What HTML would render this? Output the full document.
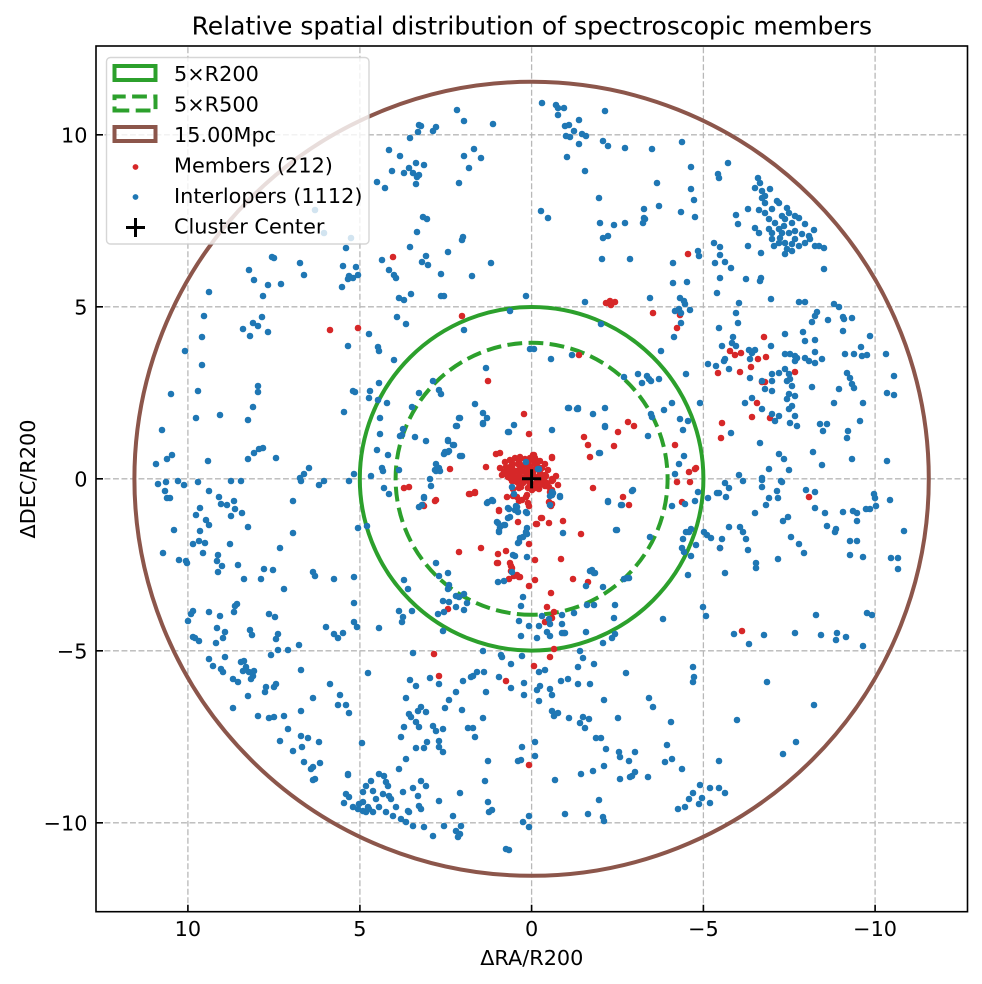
<!DOCTYPE html>
<html><head><meta charset="utf-8"><style>
html,body{margin:0;padding:0;background:#fff;}
svg{display:block;}
text{font-family:"DejaVu Sans","Liberation Sans",sans-serif;fill:#000;}
</style></head><body>
<svg width="982" height="984" viewBox="0 0 982 984" xmlns="http://www.w3.org/2000/svg">
<rect x="0" y="0" width="982" height="984" fill="#fff"/>
<text x="531.8" y="34.3" font-size="25" text-anchor="middle">Relative spatial distribution of spectroscopic members</text>
<g stroke="#b8b8b8" stroke-width="1.3" stroke-dasharray="5.9,2.6" fill="none">
<path d="M187.9 911.7V46M359.9 911.7V46M531.6 911.7V46M703.4 911.7V46M875.1 911.7V46"/>
<path d="M96 134.8H967.5M96 306.8H967.5M96 478.8H967.5M96 650.8H967.5M96 822.8H967.5"/>
</g>
<g fill="none" stroke-width="4">
<path stroke="#8c564b" d="M531.6 875.8A397 397 0 1 1 531.6 81.8A397 397 0 1 1 531.6 875.8Z"/>
<path stroke="#2ca02c" d="M531.6 650.6A171.8 171.8 0 1 1 531.6 307A171.8 171.8 0 1 1 531.6 650.6Z"/>
<path stroke="#2ca02c" stroke-dasharray="14.8,6.4" d="M531.6 614.8A136 136 0 1 1 531.6 342.8A136 136 0 1 1 531.6 614.8"/>
</g>
<path fill="none" stroke="#d62728" stroke-width="6.6" stroke-linecap="round" d="M393 257h0M330 330h0M358 328h0M462 316h0M488 381h0M524 414h0M529 434h0M496 454h0M500 453h0M486 467h0M450 469h0M688 254h0M606 303h0M610 301h0M615 302h0M611 305h0M653 313h0M680 315h0M677 328h0M579 355h0M730 351h0M735 355h0M741 353h0M764 337h0M758 359h0M766 357h0M751 367h0M718 373h0M740 372h0M762 382h0M765 382h0M795 372h0M757 403h0M752 417h0M770 418h0M722 423h0M721 438h0M584 437h0M588 445h0M590 457h0M614 446h0M618 432h0M628 422h0M634 426h0M552 458h0M675 445h0M689 472h0M695 469h0M696 468h0M534 455h0M404 488h0M409 487h0M424 506h0M435 501h0M469 494h0M475 492h0M459 552h0M481 548h0M498 554h0M498 563h0M506 551h0M499 511h0M518 522h0M511 566h0M511 571h0M509 579h0M514 576h0M519 577h0M529 586h0M515 481h0M513 489h0M519 484h0M513 496h0M519 501h0M526 497h0M529 506h0M529 544h0M448 609h0M434 654h0M439 676h0M506 681h0M529 765h0M537 481h0M542 482h0M545 486h0M552 481h0M558 485h0M539 489h0M550 492h0M549 502h0M552 504h0M551 506h0M593 488h0M623 497h0M629 505h0M536 524h0M549 523h0M541 518h0M563 521h0M581 534h0M535 560h0M561 559h0M573 579h0M588 582h0M535 580h0M551 593h0M547 607h0M554 612h0M552 618h0M545 622h0M564 633h0M554 649h0M550 657h0M534 666h0M677 482h0M690 482h0M682 502h0M720 548h0M742 631h0M809 497h0M533 455h0M530 458h0M519 461h0M512 463h0M510 467h0M507 469h0M513 470h0M520 468h0M527 467h0M535 463h0M538 467h0M508 475h0M515 477h0M520 475h0M527 473h0M533 473h0M540 472h0M545 475h0M552 479h0M543 480h0M537 483h0M530 485h0M523 483h0M517 482h0M510 478h0M520 480h0M527 478h0M535 477h0M547 483h0M552 457h0M552 490h0M552 495h0M551 504h0M532 490h0M527 495h0M519 488h0M522 500h0M517 497h0M507 497h0M528 503h0M470 494h0M475 493h0M436 500h0M423 505h0M499 510h0M537 524h0M542 518h0M497 563h0M510 563h0M512 568h0M517 575h0M520 577h0M505 462h0M510 460h0M515 458h0M520 457h0M525 459h0M530 460h0M535 458h0M540 461h0M545 464h0M506 467h0M512 466h0M518 464h0M524 465h0M530 466h0M536 465h0M542 468h0M548 470h0M504 472h0M510 472h0M516 471h0M522 471h0M528 471h0M534 470h0M540 474h0M546 476h0M508 477h0M514 476h0M520 476h0M526 476h0M532 476h0M538 478h0M544 479h0M512 481h0M518 481h0M524 482h0M530 482h0M536 483h0M542 484h0M521 487h0M528 488h0M535 488h0M549 487h0M553 480h0M556 476h0M500 468h0M502 475h0"/>
<path fill="none" stroke="#1f77b4" stroke-width="6.6" stroke-linecap="round" d="M457 110h0M464 121h0M493 124h0M419 125h0M421 126h0M436 127h0M433 131h0M418 132h0M410 138h0M389 150h0M400 156h0M474 149h0M481 158h0M464 156h0M416 163h0M424 165h0M409 168h0M404 173h0M413 173h0M419 175h0M417 177h0M416 184h0M392 171h0M469 168h0M377 182h0M385 188h0M459 183h0M315 210h0M423 217h0M427 219h0M417 232h0M324 233h0M351 238h0M346 248h0M463 237h0M462 240h0M410 247h0M448 252h0M272 257h0M274 258h0M382 260h0M426 256h0M422 262h0M428 265h0M491 263h0M300 263h0M249 270h0M343 266h0M356 267h0M389 270h0M394 275h0M396 278h0M304 275h0M254 280h0M349 276h0M353 278h0M358 275h0M348 279h0M441 274h0M472 276h0M268 285h0M281 284h0M342 287h0M209 292h0M263 296h0M399 298h0M404 300h0M411 294h0M441 296h0M444 296h0M526 296h0M510 311h0M204 316h0M262 317h0M253 323h0M258 326h0M243 329h0M250 336h0M268 332h0M397 317h0M406 324h0M202 337h0M369 334h0M464 330h0M348 346h0M378 347h0M379 351h0M185 351h0M202 365h0M394 360h0M486 368h0M530 349h0M433 381h0M379 383h0M258 386h0M258 392h0M353 391h0M355 392h0M370 391h0M369 398h0M171 394h0M198 391h0M419 393h0M439 390h0M441 394h0M378 400h0M387 403h0M475 404h0M253 407h0M412 407h0M344 412h0M459 418h0M483 413h0M487 418h0M483 424h0M196 418h0M220 415h0M248 420h0M380 418h0M456 426h0M514 425h0M403 429h0M402 435h0M400 436h0M380 434h0M415 437h0M426 441h0M448 441h0M454 445h0M509 432h0M162 430h0M377 450h0M388 455h0M460 456h0M449 451h0M444 454h0M254 453h0M259 449h0M263 448h0M248 459h0M276 458h0M172 455h0M167 459h0M156 464h0M208 461h0M436 464h0M439 468h0M436 471h0M382 468h0M383 471h0M399 470h0M309 468h0M304 474h0M300 478h0M354 474h0M371 476h0M542 103h0M556 105h0M558 108h0M564 108h0M558 115h0M605 111h0M579 120h0M565 126h0M569 125h0M574 131h0M566 136h0M570 137h0M582 134h0M586 136h0M579 144h0M603 141h0M608 146h0M625 148h0M652 149h0M682 142h0M567 157h0M585 171h0M691 167h0M728 163h0M718 174h0M719 178h0M657 183h0M691 189h0M694 200h0M599 198h0M541 211h0M548 218h0M644 209h0M644 218h0M645 219h0M643 223h0M659 206h0M681 212h0M695 217h0M600 223h0M614 225h0M625 223h0M603 238h0M608 236h0M602 259h0M630 259h0M736 215h0M738 224h0M748 209h0M758 178h0M760 183h0M755 188h0M762 191h0M770 189h0M765 196h0M762 198h0M777 201h0M779 203h0M759 210h0M765 213h0M772 209h0M787 208h0M789 213h0M782 216h0M795 216h0M799 218h0M769 219h0M775 223h0M785 219h0M792 223h0M805 224h0M814 230h0M755 228h0M759 233h0M769 229h0M772 233h0M779 229h0M782 233h0M789 233h0M795 231h0M802 234h0M809 236h0M772 239h0M779 243h0M785 243h0M792 244h0M799 246h0M787 249h0M792 251h0M785 254h0M815 246h0M824 248h0M805 243h0M810 239h0M819 246h0M784 226h0M780 238h0M795 239h0M774 246h0M765 203h0M748 246h0M761 253h0M824 269h0M714 243h0M720 247h0M720 255h0M725 262h0M731 268h0M715 263h0M720 278h0M717 293h0M746 279h0M761 278h0M760 281h0M698 251h0M699 256h0M673 263h0M673 283h0M687 282h0M585 302h0M650 298h0M680 298h0M684 301h0M685 304h0M679 309h0M675 311h0M681 313h0M690 310h0M681 323h0M771 299h0M739 303h0M799 302h0M805 302h0M834 304h0M839 307h0M817 312h0M815 316h0M812 322h0M828 320h0M843 317h0M844 319h0M852 318h0M736 313h0M738 323h0M719 328h0M601 324h0M674 337h0M785 334h0M803 332h0M815 340h0M805 341h0M843 331h0M870 336h0M733 337h0M732 343h0M736 346h0M722 346h0M771 346h0M534 349h0M551 359h0M572 355h0M661 351h0M749 350h0M752 353h0M755 350h0M750 359h0M725 359h0M724 361h0M729 369h0M708 364h0M716 366h0M785 354h0M790 354h0M795 356h0M795 361h0M797 358h0M805 358h0M809 361h0M815 363h0M822 359h0M815 352h0M845 354h0M854 354h0M861 347h0M862 356h0M867 355h0M886 354h0M686 374h0M750 378h0M762 381h0M772 374h0M779 373h0M785 369h0M789 374h0M787 381h0M792 386h0M790 379h0M772 381h0M765 389h0M772 391h0M812 387h0M847 373h0M850 378h0M852 384h0M854 388h0M839 389h0M894 376h0M887 393h0M894 395h0M624 377h0M638 374h0M647 376h0M649 379h0M659 379h0M642 383h0M651 381h0M569 408h0M578 408h0M578 409h0M605 408h0M672 403h0M700 403h0M664 410h0M593 414h0M651 414h0M652 417h0M680 419h0M688 421h0M683 430h0M605 426h0M552 430h0M745 403h0M752 398h0M762 409h0M772 414h0M779 416h0M775 421h0M789 409h0M795 416h0M790 423h0M797 426h0M787 399h0M792 406h0M795 396h0M789 394h0M820 424h0M827 424h0M823 431h0M834 403h0M860 421h0M848 431h0M847 438h0M863 403h0M731 433h0M648 436h0M599 453h0M779 454h0M784 459h0M789 470h0M813 452h0M822 465h0M760 443h0M852 459h0M887 461h0M769 469h0M739 475h0M762 478h0M679 464h0M684 456h0M675 474h0M539 469h0M158 484h0M166 482h0M178 481h0M184 485h0M198 482h0M165 491h0M167 498h0M170 498h0M209 491h0M219 497h0M221 504h0M227 505h0M234 501h0M235 509h0M242 513h0M231 516h0M241 481h0M231 481h0M196 515h0M200 508h0M206 520h0M209 525h0M200 531h0M174 530h0M248 527h0M193 544h0M199 541h0M205 543h0M203 553h0M230 544h0M163 553h0M179 560h0M186 561h0M187 563h0M218 555h0M217 561h0M222 566h0M218 572h0M238 565h0M244 579h0M264 569h0M273 570h0M261 579h0M280 548h0M284 589h0M293 501h0M293 533h0M319 485h0M324 481h0M301 481h0M349 481h0M313 572h0M315 576h0M334 579h0M354 577h0M358 528h0M367 526h0M193 611h0M191 614h0M188 621h0M209 612h0M220 616h0M235 606h0M237 604h0M234 612h0M217 628h0M225 632h0M223 638h0M216 643h0M193 637h0M195 638h0M199 641h0M250 630h0M252 635h0M269 614h0M275 617h0M278 634h0M276 639h0M278 650h0M271 655h0M288 650h0M299 645h0M326 627h0M334 634h0M338 638h0M343 633h0M354 622h0M357 627h0M354 603h0M379 628h0M399 611h0M403 617h0M402 622h0M404 580h0M408 589h0M412 611h0M422 505h0M419 507h0M424 497h0M431 486h0M384 488h0M389 494h0M436 563h0M439 576h0M448 573h0M449 585h0M448 589h0M443 601h0M449 602h0M456 596h0M459 597h0M464 594h0M467 603h0M464 610h0M456 607h0M444 612h0M438 614h0M443 631h0M488 502h0M493 501h0M497 522h0M499 531h0M504 525h0M508 518h0M498 582h0M504 581h0M515 556h0M519 542h0M523 537h0M526 532h0M509 509h0M516 506h0M526 512h0M523 597h0M521 606h0M519 621h0M529 626h0M521 636h0M483 651h0M501 655h0M502 657h0M511 664h0M522 656h0M413 653h0M209 659h0M213 666h0M225 657h0M221 669h0M223 672h0M233 679h0M238 682h0M241 662h0M244 661h0M246 667h0M243 671h0M249 672h0M253 676h0M251 679h0M254 671h0M248 696h0M233 708h0M266 687h0M265 692h0M276 684h0M274 687h0M258 716h0M269 718h0M274 717h0M284 716h0M301 670h0M313 698h0M301 711h0M288 729h0M280 741h0M301 736h0M308 738h0M293 751h0M302 747h0M319 742h0M304 762h0M313 767h0M311 769h0M320 763h0M315 779h0M313 780h0M330 684h0M340 695h0M338 705h0M346 705h0M349 713h0M368 673h0M362 743h0M348 775h0M410 680h0M416 686h0M406 698h0M430 678h0M439 684h0M456 692h0M449 700h0M445 708h0M463 681h0M473 676h0M477 672h0M484 672h0M471 677h0M486 692h0M499 677h0M511 688h0M524 683h0M524 695h0M483 718h0M462 710h0M409 714h0M411 717h0M418 711h0M421 707h0M426 712h0M416 722h0M419 727h0M404 727h0M401 737h0M433 726h0M436 731h0M443 729h0M439 741h0M439 747h0M443 752h0M416 748h0M424 748h0M427 742h0M406 759h0M399 769h0M468 728h0M473 728h0M475 737h0M488 761h0M485 781h0M521 760h0M518 761h0M522 747h0M488 802h0M489 812h0M492 810h0M460 793h0M439 801h0M348 774h0M346 794h0M349 797h0M344 803h0M353 807h0M358 809h0M363 811h0M366 812h0M369 809h0M363 802h0M363 792h0M366 786h0M371 781h0M373 791h0M379 774h0M384 776h0M386 782h0M388 786h0M383 794h0M389 796h0M391 799h0M379 807h0M386 812h0M393 816h0M396 807h0M401 819h0M406 822h0M413 826h0M408 811h0M409 812h0M403 792h0M418 796h0M419 806h0M421 809h0M424 827h0M433 836h0M421 781h0M426 786h0M413 788h0M444 826h0M453 816h0M456 831h0M461 826h0M458 837h0M460 834h0M506 849h0M509 850h0M523 822h0M529 827h0M529 816h0M359 804h0M368 807h0M373 812h0M376 799h0M725 483h0M729 488h0M743 481h0M762 480h0M762 487h0M782 482h0M781 481h0M717 493h0M719 493h0M726 497h0M708 498h0M698 492h0M695 501h0M685 504h0M672 506h0M769 498h0M778 498h0M777 491h0M766 505h0M806 490h0M815 492h0M815 508h0M825 513h0M843 512h0M853 511h0M857 513h0M857 521h0M866 509h0M870 509h0M874 494h0M875 498h0M876 506h0M890 500h0M755 513h0M783 521h0M788 517h0M827 526h0M836 529h0M835 532h0M791 537h0M799 544h0M804 553h0M740 527h0M743 532h0M746 539h0M748 550h0M729 527h0M722 539h0M720 548h0M704 532h0M707 535h0M711 538h0M725 573h0M756 563h0M756 568h0M778 559h0M850 541h0M857 541h0M850 555h0M863 557h0M904 531h0M891 558h0M898 558h0M898 569h0M683 539h0M682 548h0M684 552h0M691 556h0M696 545h0M689 532h0M691 529h0M686 532h0M688 575h0M616 530h0M650 537h0M563 533h0M608 501h0M621 505h0M632 491h0M560 496h0M550 496h0M552 492h0M590 571h0M594 573h0M586 586h0M603 587h0M587 605h0M594 605h0M574 613h0M562 615h0M562 624h0M562 633h0M565 633h0M586 632h0M615 605h0M614 618h0M627 578h0M624 579h0M629 578h0M663 619h0M703 607h0M706 616h0M612 638h0M615 634h0M603 643h0M734 634h0M749 644h0M764 635h0M795 633h0M821 635h0M837 633h0M836 640h0M846 637h0M863 646h0M816 615h0M867 613h0M872 615h0M542 616h0M549 619h0M550 624h0M539 626h0M547 632h0M550 636h0M537 638h0M580 651h0M583 658h0M578 667h0M594 664h0M539 672h0M545 670h0M561 681h0M568 679h0M578 684h0M590 684h0M540 686h0M537 690h0M550 689h0M552 695h0M539 701h0M626 673h0M604 700h0M552 711h0M554 716h0M558 713h0M569 718h0M580 723h0M583 717h0M585 728h0M589 719h0M618 718h0M649 698h0M653 707h0M671 722h0M693 667h0M694 677h0M693 682h0M767 682h0M737 720h0M814 705h0M535 742h0M535 756h0M596 738h0M601 738h0M606 749h0M619 752h0M620 757h0M635 752h0M629 761h0M604 766h0M581 774h0M593 771h0M667 745h0M665 762h0M672 759h0M682 769h0M620 779h0M632 776h0M635 772h0M630 777h0M648 777h0M555 780h0M599 800h0M565 814h0M588 814h0M603 817h0M604 821h0M719 761h0M783 754h0M796 742h0M700 785h0M710 788h0M719 788h0M725 793h0M693 793h0M689 799h0M685 807h0M678 809h0M699 804h0M710 803h0M702 798h0M508 432h0M514 425h0M526 462h0M538 469h0M512 487h0M514 494h0M517 507h0M515 510h0M508 508h0M518 512h0M510 517h0M498 523h0M500 527h0M505 525h0M499 532h0M520 538h0M518 543h0M523 537h0M527 528h0M527 513h0M527 534h0M513 555h0M527 557h0M552 495h0M553 493h0M560 497h0M550 505h0M563 533h0M512 572h0M487 503h0M492 500h0M475 404h0M483 413h0M487 418h0M483 423h0M460 418h0M457 426h0M448 440h0M453 445h0M445 452h0M448 452h0M462 456h0M436 464h0M435 470h0M440 471h0M430 479h0M431 486h0M426 441h0M424 498h0M422 505h0M568 408h0M577 409h0M593 414h0M605 408h0M605 427h0M600 453h0M608 502h0M622 505h0M633 490h0M617 530h0M592 570h0M595 573h0"/>
<path stroke="#000" stroke-width="3" d="M522 478.8H541.2M531.6 469.2V488.4"/>
<rect x="96" y="46" width="871.5" height="865.7" fill="none" stroke="#000" stroke-width="1.6"/>
<g stroke="#000" stroke-width="1.6">
<path d="M187.9 911.7v-7M359.9 911.7v-7M531.6 911.7v-7M703.4 911.7v-7M875.1 911.7v-7"/>
<path d="M96 134.8h7M96 306.8h7M96 478.8h7M96 650.8h7M96 822.8h7"/>
</g>
<g font-size="20.8" text-anchor="middle">
<text x="187.9" y="936">10</text>
<text x="359.9" y="936">5</text>
<text x="531.6" y="936">0</text>
<text x="703.4" y="936">−5</text>
<text x="875.1" y="936">−10</text>
</g>
<g font-size="20.8" text-anchor="end">
<text x="87.5" y="142.3">10</text>
<text x="87.5" y="314.3">5</text>
<text x="87.5" y="486.3">0</text>
<text x="87.5" y="658.3">−5</text>
<text x="87.5" y="830.3">−10</text>
</g>
<text x="531.8" y="965" font-size="20.8" text-anchor="middle">ΔRA/R200</text>
<text transform="translate(35 479) rotate(-90)" font-size="20.8" text-anchor="middle">ΔDEC/R200</text>
<rect x="106.5" y="57.5" width="262.5" height="186.5" rx="4" ry="4" fill="#fff" fill-opacity="0.8" stroke="#cccccc" stroke-opacity="0.8" stroke-width="1.4"/>
<rect x="114.5" y="66" width="41" height="14" fill="none" stroke="#2ca02c" stroke-width="4"/>
<path d="M114.5 110.5H155.5V96.5H114.5Z" fill="none" stroke="#2ca02c" stroke-width="4" stroke-dasharray="14.8,6.4"/>
<rect x="114.5" y="127" width="41" height="14" fill="none" stroke="#8c564b" stroke-width="4"/>
<circle cx="135.5" cy="167" r="2.9" fill="#d62728"/>
<circle cx="135.5" cy="197" r="2.9" fill="#1f77b4"/>
<path stroke="#000" stroke-width="3" d="M126 227.5H145M135.5 218V237"/>
<g font-size="20.8">
<text x="174" y="81">5×R200</text>
<text x="174" y="111.5">5×R500</text>
<text x="174" y="142">15.00Mpc</text>
<text x="174" y="172.5">Members (212)</text>
<text x="174" y="203">Interlopers (1112)</text>
<text x="174" y="233.5">Cluster Center</text>
</g>
</svg>
</body></html>
